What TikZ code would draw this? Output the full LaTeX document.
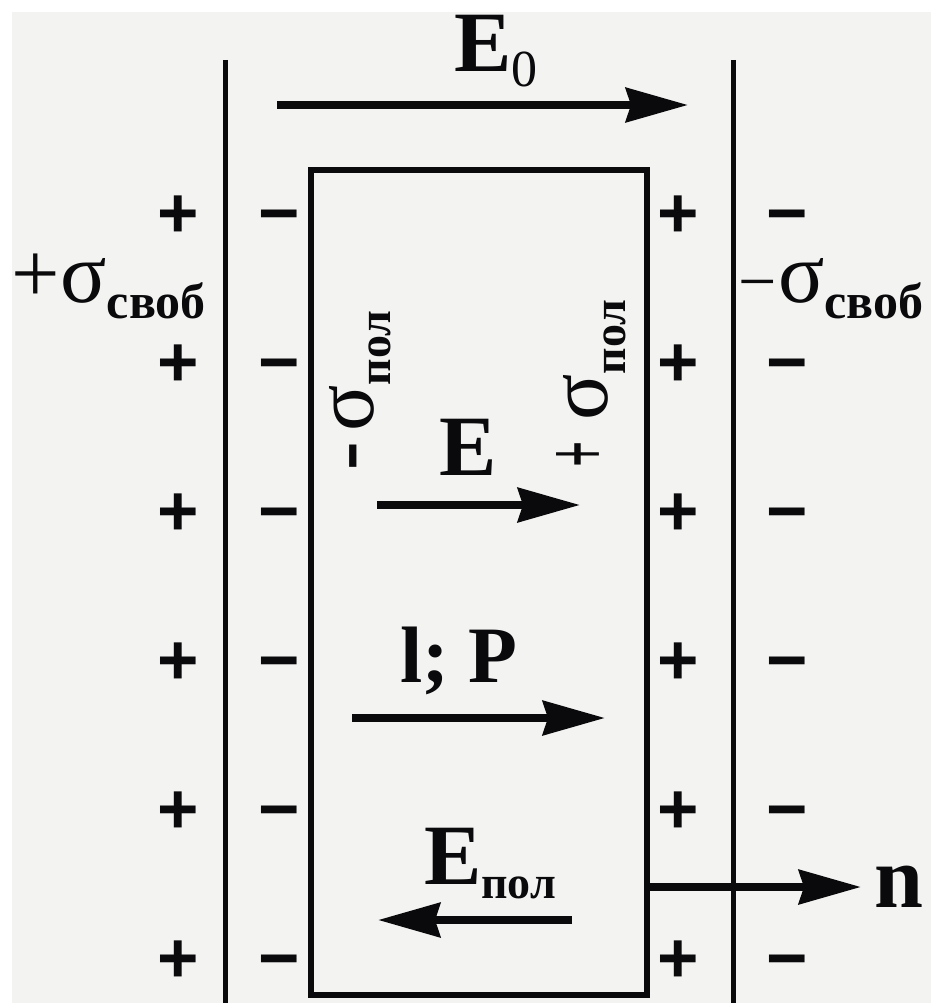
\documentclass[tikz,border=0pt]{standalone}
\usepackage{fontspec}
\setmainfont{Liberation Serif}
\newfontfamily\sgnfont{Liberation Sans}
\usetikzlibrary{arrows.meta}
\definecolor{bg}{RGB}{243,244,242}
\definecolor{ink}{RGB}{10,10,12}
\newcommand{\fsz}[1]{\fontsize{#1}{#1}\selectfont}
\begin{document}
\begin{tikzpicture}[x=1pt,y=-1pt,
  lbl/.style={inner sep=0pt, outer sep=0pt, anchor=base west, text=ink},
  sgn/.style={inner sep=0pt, outer sep=0pt, anchor=base, text=ink, font={\sgnfont\bfseries\fsz{71}}},
  plate/.style={draw=ink, line width=5pt},
  box/.style={draw=ink, line width=6pt, inner sep=0pt, outer sep=0pt},
  vec/.style={draw=ink, line width=8pt, -{Stealth[length=62pt,width=34pt,inset=5pt]}},
]
\fill[white] (0,0) rectangle (931,1003);
\fill[bg] (12,12) rectangle (931,1003);
\useasboundingbox (0,0) rectangle (931,1003);

% plates
\coordinate (p1t) at (225,60);
\coordinate (p1b) at (225,1003);
\coordinate (p2t) at (733,60);
\coordinate (p2b) at (733,1003);
\draw[plate] (p1t) -- (p1b);
\draw[plate] (p2t) -- (p2b);

% dielectric
\node[box, minimum width=336pt, minimum height=825pt, anchor=north west] (diel) at (311,170) {};

% charges
\foreach \r/\y in {1/212,2/361,3/510,4/659,5/808,6/957} {
  \node[sgn] (lp\r) at (178,\y+25) {+};
  \node[sgn] (lm\r) at (279,\y+25) {−};
  \node[sgn] (rp\r) at (678,\y+25) {+};
  \node[sgn] (rm\r) at (787,\y+25) {−};
}

% vectors
\coordinate (e0s) at (277,105);
\coordinate (e0e) at (688,105);
\draw[vec] (e0s) -- (e0e);
\coordinate (es) at (377,505);
\coordinate (ee) at (580,505);
\draw[vec] (es) -- (ee);
\coordinate (lps) at (352,718);
\coordinate (lpe) at (605,718);
\draw[vec] (lps) -- (lpe);
\coordinate (eps) at (572,920);
\coordinate (epe) at (378,920);
\draw[vec] (eps) -- (epe);
\coordinate (ns) at (647,887);
\coordinate (ne) at (861,887);
\draw[vec] (ns) -- (ne);

% labels
\node[lbl] (e0lab) at (454,72) {\fsz{86}\bfseries E\raisebox{-15pt}{\mdseries\fsz{52}0}};
\node[lbl] (sfl) at (12,302) {\fsz{86}+σ\raisebox{-16pt}{\fsz{50}\bfseries своб}};
\node[lbl] (sfr) at (738,302) {\fsz{86}\raisebox{-2pt}{\fsz{68}−}\hspace{2pt}σ\raisebox{-16pt}{\fsz{50}\bfseries своб}};
\node[lbl, rotate=90] (spl) at (373,470) {\fsz{86}\bfseries-\hspace{10pt}\mdseries σ\raisebox{-17pt}{\fsz{46}\bfseries пол}};
\node[lbl, rotate=90] (spr) at (607,467) {\fsz{92}\bfseries\raisebox{-1pt}{\scalebox{0.5}[1]{+}}\hspace{20pt}\mdseries\fsz{86}σ\raisebox{-18pt}{\fsz{46}\bfseries пол}};
\node[lbl] (elab) at (439,475) {\fsz{86}\bfseries E};
\node[lbl] (lplab) at (400,682) {\fsz{80}\bfseries l; P};
\node[lbl] (eplab) at (424,884) {\fsz{86}\bfseries E\raisebox{-14pt}{\fsz{46}пол}};
\node[lbl] (nlab) at (874,907) {\fsz{88}\bfseries n};
\end{tikzpicture}
\end{document}
